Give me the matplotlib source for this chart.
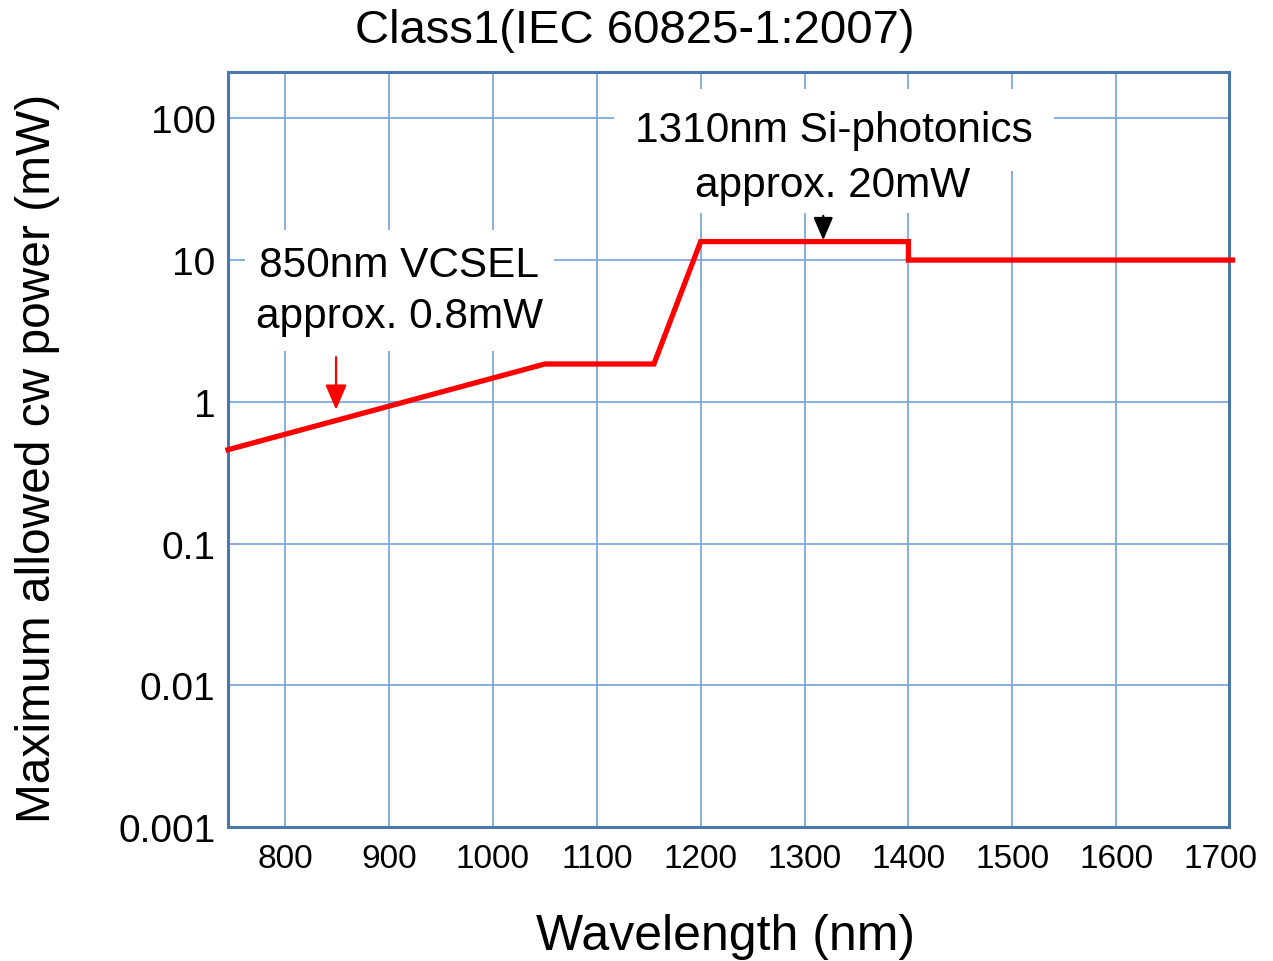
import numpy as np
import matplotlib
matplotlib.use("Agg")
import matplotlib.pyplot as plt
from matplotlib.ticker import NullLocator, FixedLocator

plt.rcParams['font.family'] = ['Liberation Sans', 'DejaVu Sans']

# Class 1 AEL curve
wavelength = [745, 1050, 1155, 1200, 1400, 1400, 1712]
power_mw = [0.46, 1.85, 1.85, 13.5, 13.5, 10.0, 10.0]

x_ticks = [800, 900, 1000, 1100, 1200, 1300, 1400, 1500, 1600, 1700]
y_ticks = [0.001, 0.01, 0.1, 1, 10, 100]
y_tick_labels = ['0.001', '0.01', '0.1', '1', '10', '100']

grid_col = '#7EA8DA'
frame_col = '#4C77AC'

fig = plt.figure(figsize=(12.73, 9.62), dpi=100)
ax = fig.add_axes([228 / 1273, 1 - 828.3 / 962, 1001 / 1273, 755.3 / 962])

ax.plot(wavelength, power_mw, color='#FF0000', lw=3.8, solid_joinstyle='miter',
        clip_on=False, zorder=3)

ax.set_yscale('log')
ax.set_xlim(745, 1708.6)
ax.set_ylim(0.001, 212)
ax.yaxis.set_major_locator(FixedLocator(y_ticks))
ax.yaxis.set_minor_locator(NullLocator())
ax.set_yticklabels(y_tick_labels)
ax.set_xticks(x_ticks)
ax.tick_params(axis='y', length=0, pad=9, labelsize=28)
ax.tick_params(axis='x', length=0, pad=11, labelsize=24)

ax.grid(True, color=grid_col, lw=1.3)
ax.get_xgridlines()[-1].set_visible(False)  # 1700 sits on the frame
ax.set_axisbelow(True)
for s in ax.spines.values():
    s.set_color(frame_col)
    s.set_linewidth(2.2)

# annotations
ax.text(910, 7.74, '850nm VCSEL', fontsize=30.5, ha='center', va='baseline',
        bbox=dict(facecolor='white', edgecolor='none', boxstyle='square,pad=0.35'), zorder=4)
ax.text(910, 3.36, 'approx. 0.8mW', fontsize=30.5, ha='center', va='baseline',
        bbox=dict(facecolor='white', edgecolor='none', boxstyle='square,pad=0.35'), zorder=4)
ax.annotate('', xy=(849, 0.88), xytext=(849, 2.07),
            arrowprops=dict(arrowstyle='-|>,head_length=0.7,head_width=0.3', color='#FF0000',
                            lw=1.6, mutation_scale=22, shrinkA=0, shrinkB=0), zorder=5)

ax.text(1328, 69.3, '1310nm Si-photonics', fontsize=30.5, ha='center', va='baseline',
        bbox=dict(facecolor='white', edgecolor='none', boxstyle='square,pad=0.5'), zorder=4)
ax.text(1327, 28.4, 'approx. 20mW', fontsize=30.5, ha='center', va='baseline',
        bbox=dict(facecolor='white', edgecolor='none', boxstyle='square,pad=0.2'), zorder=4)
ax.annotate('', xy=(1318, 13.8), xytext=(1318, 20.5),
            arrowprops=dict(arrowstyle='-|>,head_length=0.7,head_width=0.3', color='black',
                            lw=1.6, mutation_scale=20, shrinkA=0, shrinkB=0), zorder=5)

fig.text(634.5 / 1273, 1 - 43 / 962, 'Class1(IEC 60825-1:2007)', fontsize=34,
         ha='center', va='baseline')
fig.text(726 / 1273, 1 - 937 / 962, 'Wavelength (nm)', fontsize=36,
         ha='center', va='center')
fig.text(38 / 1273, 1 - 458 / 962, 'Maximum allowed cw power (mW)', fontsize=34.5,
         ha='center', va='center', rotation=90)

fig.savefig('out.png', dpi=100)
